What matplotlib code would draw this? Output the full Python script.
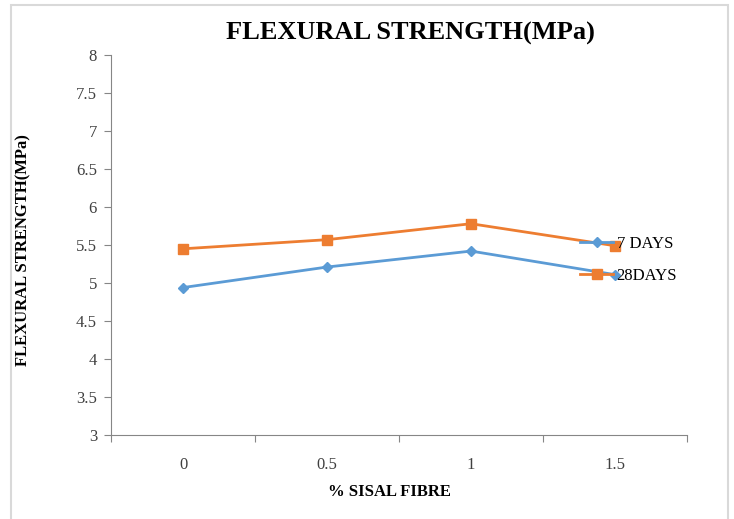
import numpy as np
import matplotlib.pyplot as plt
from matplotlib.patches import Rectangle

# data
fibre = ['0', '0.5', '1', '1.5']
days7 = [4.94, 5.21, 5.42, 5.11]
days28 = [5.45, 5.57, 5.78, 5.49]
yticks = [3, 3.5, 4, 4.5, 5, 5.5, 6, 6.5, 7, 7.5, 8]

SERIF = ['Liberation Serif', 'DejaVu Serif']
BLUE = '#5B9BD5'
ORANGE = '#ED7D31'

fig = plt.figure(figsize=(7.34, 5.19), dpi=100)
W, H = 734, 519

# outer chart frame
fig.patches.append(Rectangle((11 / W, -0.05), (728 - 11) / W, 1.05 - 5 / H,
                             transform=fig.transFigure, fill=False,
                             edgecolor='#D9D9D9', linewidth=1.5))

ax = fig.add_axes([111 / W, 1 - 435 / H, 576 / W, 380 / H])

x = np.arange(len(fibre))
ax.plot(x, days7, color=BLUE, lw=2, marker='D', ms=5, label='7 DAYS')
ax.plot(x, days28, color=ORANGE, lw=2, marker='s', ms=7, label='28DAYS')

ax.set_xlim(-0.5, len(fibre) - 0.5)
ax.set_ylim(3, 8)
ax.set_yticks(yticks)
ax.set_yticklabels([f'{v:g}' for v in yticks])

# category boundaries get the tick marks, labels sit in the middle
ax.set_xticks(np.arange(len(fibre) + 1) - 0.5)
ax.set_xticklabels([])
ax.set_xticks(x, minor=True)
ax.set_xticklabels(fibre, minor=True)
ax.tick_params(axis='x', which='minor', length=0, pad=16)
ax.tick_params(axis='x', which='major', length=5, color='#868686', direction='out')
ax.tick_params(axis='y', length=5, color='#868686', direction='out', pad=5)

for lab in ax.get_xticklabels(minor=True) + ax.get_yticklabels():
    lab.set_fontfamily(SERIF)
    lab.set_fontsize(12)
    lab.set_color('#404040')

for s in ['top', 'right']:
    ax.spines[s].set_visible(False)
for s in ['left', 'bottom']:
    ax.spines[s].set_color('#868686')

ax.set_xlabel('% SISAL FIBRE', fontfamily=SERIF, fontweight='bold', fontsize=12)
ax.xaxis.set_label_coords(0.483, -0.129)
ax.set_ylabel('FLEXURAL STRENGTH(MPa)', fontfamily=SERIF, fontweight='bold',
              fontsize=12)
ax.yaxis.set_label_coords(-0.139, 0.487)

fig.text(410 / W, 1 - 33 / H, 'FLEXURAL STRENGTH(MPa)', ha='center', va='center',
         fontfamily=SERIF, fontweight='bold', fontsize=19)

ax.legend(loc='center left', bbox_to_anchor=(0.814, 0.46), frameon=False,
          borderpad=0, borderaxespad=0, handlelength=2.0, handletextpad=0.2,
          labelspacing=0.95, prop={'family': SERIF, 'size': 12})

fig.savefig('out.png', dpi=100)
